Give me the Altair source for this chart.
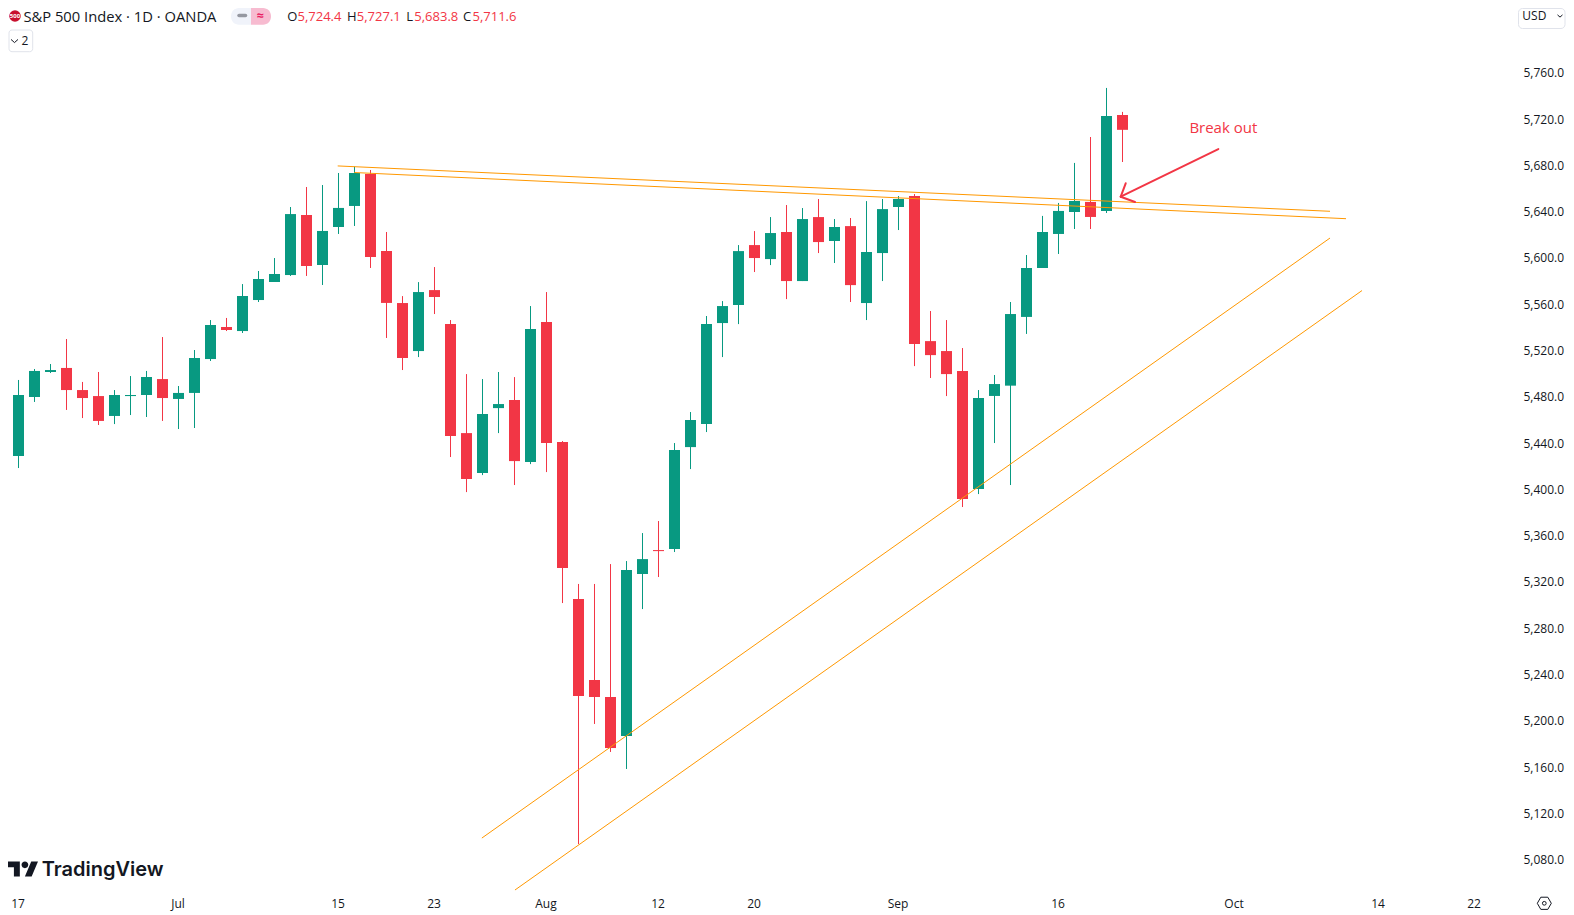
import json
import altair as alt
import pandas as pd

# Daily OHLC, S&P 500 Index (OANDA), one bar per trading day
opens = [5432.3, 5429.7, 5480.7, 5502.3, 5505.8, 5486.7, 5481.5, 5464.3, 5481.5, 5482.4,
         5496.2, 5479.0, 5484.2, 5513.5, 5541.2, 5537.7, 5564.5, 5580.1, 5586.1, 5638.0,
         5594.8, 5627.6, 5645.8, 5673.5, 5606.9, 5561.9, 5520.4, 5573.1, 5543.7, 5449.5,
         5415.0, 5471.1, 5478.1, 5424.5, 5545.5, 5441.8, 5306.1, 5236.1, 5221.4, 5187.7,
         5327.7, 5348.4, 5349.3, 5437.4, 5457.3, 5544.6, 5560.2, 5612.0, 5599.9, 5623.3,
         5580.9, 5636.2, 5615.5, 5628.4, 5561.9, 5605.1, 5644.9, 5654.4, 5529.0, 5520.4,
         5503.1, 5401.1, 5481.6, 5490.5, 5549.9, 5592.2, 5621.6, 5640.6, 5649.3, 5641.5,
         5724.4]
highs = [5437.5, 5495.4, 5504.9, 5509.2, 5530.8, 5493.7, 5502.3, 5486.7, 5498.8, 5503.2,
         5532.5, 5490.2, 5521.3, 5547.2, 5549.0, 5578.3, 5589.6, 5600.8, 5644.9, 5662.2,
         5663.9, 5674.3, 5679.8, 5676.9, 5623.3, 5567.9, 5580.0, 5593.0, 5547.2, 5500.5,
         5496.2, 5502.3, 5497.9, 5559.3, 5571.4, 5442.6, 5319.1, 5319.1, 5336.3, 5338.9,
         5363.1, 5373.5, 5440.9, 5467.7, 5550.7, 5563.6, 5612.0, 5624.1, 5636.2, 5646.6,
         5644.0, 5651.8, 5634.5, 5635.4, 5650.0, 5651.8, 5654.4, 5656.1, 5555.0, 5547.2,
         5523.0, 5486.7, 5499.7, 5562.8, 5603.4, 5637.2, 5648.4, 5683.0, 5705.4, 5747.8,
         5727.1]
lows = [5392.5, 5419.3, 5476.4, 5501.4, 5469.5, 5462.5, 5456.5, 5457.3, 5465.1, 5463.4,
        5460.0, 5453.0, 5453.9, 5511.8, 5537.7, 5536.0, 5562.8, 5580.1, 5585.3, 5585.3,
        5577.5, 5621.6, 5628.5, 5592.2, 5531.7, 5504.0, 5515.2, 5552.4, 5428.8, 5398.5,
        5413.2, 5449.5, 5404.6, 5422.7, 5415.8, 5302.6, 5094.3, 5198.1, 5173.9, 5159.2,
        5297.4, 5325.1, 5346.7, 5418.4, 5450.4, 5515.2, 5543.7, 5588.7, 5594.7, 5565.3,
        5580.9, 5605.1, 5596.5, 5562.8, 5547.2, 5580.9, 5625.0, 5507.4, 5497.1, 5481.5,
        5385.6, 5396.8, 5440.9, 5404.6, 5535.2, 5592.2, 5604.3, 5625.9, 5625.9, 5639.7,
        5683.8]
closes = [5429.7, 5482.4, 5503.2, 5504.0, 5486.7, 5479.8, 5460.0, 5482.4, 5482.4, 5498.0,
          5479.8, 5484.2, 5514.4, 5542.9, 5538.6, 5568.0, 5582.7, 5587.0, 5638.8, 5593.9,
          5624.2, 5644.1, 5674.3, 5601.7, 5562.0, 5514.4, 5571.4, 5567.1, 5446.9, 5409.8,
          5466.0, 5474.6, 5425.3, 5539.4, 5440.9, 5332.9, 5222.3, 5221.4, 5177.3, 5331.2,
          5340.6, 5347.5, 5434.8, 5460.8, 5543.7, 5559.3, 5606.8, 5600.8, 5622.4, 5580.9,
          5634.5, 5614.6, 5627.6, 5577.4, 5606.0, 5643.1, 5651.8, 5526.5, 5516.9, 5500.5,
          5392.5, 5479.8, 5491.9, 5552.4, 5592.2, 5623.3, 5641.5, 5650.1, 5636.3, 5723.6,
          5711.6]

# Hand-drawn trend lines: name, bar index and price at both ends
line_names = ["top1", "top1", "top2", "top2", "rise1", "rise1", "rise2", "rise2"]
line_bars = [20.95, 82.97, 21.99, 83.97, 29.96, 82.97, 32.03, 84.97]
line_prices = [5680.4, 5641.2, 5674.7, 5634.8, 5099.5, 5618.1, 5054.6, 5572.7]

# Arrow annotation: shaft and the two barbs, each a separate stroke
arrow_names = ["shaft", "shaft", "barb1", "barb1", "barb2", "barb2"]
arrow_bars = [75.99, 69.89, 69.89, 70.2, 69.89, 70.78]
arrow_prices = [5695.0, 5653.8, 5653.8, 5665.4, 5653.8, 5649.2]

note_text = ["Break out"]
note_bar = [74.18]
note_price = [5712.9]

# Axes
price_ticks = [5080, 5120, 5160, 5200, 5240, 5280, 5320, 5360, 5400, 5440, 5480, 5520,
               5560, 5600, 5640, 5680, 5720, 5760]
time_ticks = [1, 11, 21, 27, 34, 41, 47, 56, 66, 77, 86, 92]
time_labels = ["17", "Jul", "15", "23", "Aug", "12", "20", "Sep", "16", "Oct", "14", "22"]

GREEN = "#089981"
RED = "#F23645"
ORANGE = "#FF9800"
INK = "#131722"
FONT = "Open Sans"

df = pd.DataFrame({"bar": list(range(len(opens))), "open": opens, "high": highs,
                   "low": lows, "close": closes})
df["dir"] = ["up" if c >= o else "down" for o, c in zip(opens, closes)]

xs = alt.Scale(domain=[0.34375, 94.34375], nice=False, zero=False, padding=0)
ys = alt.Scale(domain=[5054.6, 5816.9], nice=False, zero=False, padding=0)
cs = alt.Scale(domain=["up", "down"], range=[GREEN, RED])

label_map = json.dumps({str(t): l for t, l in zip(time_ticks, time_labels)})
x_axis = alt.Axis(values=time_ticks, labelExpr=f"{label_map}[datum.value]", title=None,
                  grid=False, domain=False, ticks=False, labelFont=FONT, labelFontSize=12,
                  labelColor=INK, labelPadding=13, labelOffset=-1, labelBaseline="middle",
                  labelOverlap=False, labelFlush=False)
y_axis = alt.Axis(values=price_ticks, format=",.1f", orient="right", title=None,
                  grid=False, domain=False, ticks=False, labelFont=FONT, labelFontSize=12,
                  labelColor=INK, labelPadding=11, labelOffset=-1, labelOverlap=False)


def X(field):
    return alt.X(field, scale=xs, axis=x_axis)


def Y(field):
    return alt.Y(field, scale=ys, axis=y_axis)


wicks = alt.Chart(df).mark_rule(strokeWidth=1).encode(
    x=X("bar:Q"), y=Y("low:Q"), y2="high:Q",
    color=alt.Color("dir:N", scale=cs, legend=None),
)
bodies = alt.Chart(df).mark_bar(size=11, orient="vertical").encode(
    x=X("bar:Q"), y=Y("open:Q"), y2="close:Q",
    color=alt.Color("dir:N", scale=cs, legend=None),
)
trend = alt.Chart(pd.DataFrame({"n": line_names, "b": line_bars, "p": line_prices})).mark_line(
    color=ORANGE, strokeWidth=1).encode(x=X("b:Q"), y=Y("p:Q"), detail="n:N")
arrow = alt.Chart(pd.DataFrame({"n": arrow_names, "b": arrow_bars, "p": arrow_prices})).mark_line(
    color=RED, strokeWidth=2, strokeCap="round").encode(x=X("b:Q"), y=Y("p:Q"), detail="n:N")
note = alt.Chart(pd.DataFrame({"t": note_text, "b": note_bar, "p": note_price})).mark_text(
    color=RED, font=FONT, fontSize=15, align="left", baseline="middle").encode(
    x=X("b:Q"), y=Y("p:Q"), text="t:N")

one = pd.DataFrame({"a": [0]})


def text(s, x, y, size=12, color=INK, font=FONT, weight="normal", align="left"):
    return alt.Chart(one).mark_text(text=s, font=font, fontSize=size, color=color,
                                    fontWeight=weight, align=align, baseline="middle").encode(
        x=alt.value(x), y=alt.value(y))


def box(x, x2, y, y2, fill, stroke=None, **corners):
    kw = dict(fill=fill, **corners)
    if stroke:
        kw.update(stroke=stroke, strokeWidth=1)
    return alt.Chart(one).mark_rect(**kw).encode(
        x=alt.value(x), x2=alt.value(x2), y=alt.value(y), y2=alt.value(y2))


def glyph(path, x, y, size, filled=False, color=INK, width=1):
    return alt.Chart(one).mark_point(shape=path, filled=filled, size=size, color=color,
                                     opacity=1, strokeWidth=width).encode(
        x=alt.value(x), y=alt.value(y))


CHEVRON = "M-1 -0.45L0 0.45L1 -0.45"
HEX = "M-1 0L-0.5 -0.87L0.5 -0.87L1 0L0.5 0.87L-0.5 0.87Z"
TV_LOGO = ("M-0.211 0.507H-0.606V-0.113H-1V-0.507H-0.211ZM0.577 0.507H0.127L0.549 -0.507H1Z"
           "M0.352 -0.282A0.225 0.225 0 1 0 -0.098 -0.282A0.225 0.225 0 1 0 0.352 -0.282Z")

# Chart-space positions are the reference's minus the page's 8px margin.
ui = [
    glyph("circle", 7, 8, 135, filled=True, color="#C8102E"),
    text("500", 7, 8, size=6, color="#FFFFFF", weight="bold", align="center"),
    text("S&P 500 Index · 1D · OANDA", 15.4, 10.2, size=14.75),
    box(223, 243, 0, 16.8, "#F0F3FA", cornerRadiusTopLeft=8, cornerRadiusBottomLeft=8),
    box(243, 263, 0, 16.8, "#F7BBD0", cornerRadiusTopRight=8, cornerRadiusBottomRight=8),
    alt.Chart(one).mark_rule(color="#9598A1", strokeWidth=3.5, strokeCap="round").encode(
        x=alt.value(231), x2=alt.value(237.5), y=alt.value(7.4)),
    text("≈", 252, 7.5, size=12.5, color="#E91E63", align="center", weight="bold"),
    text("O", 279.2, 9, size=13),
    text("5,724.4", 289.5, 9, size=13, color=RED),
    text("H", 339, 9, size=13),
    text("5,727.1", 348.8, 9, size=13, color=RED),
    text("L", 398.3, 9, size=13),
    text("5,683.8", 406.3, 9, size=13, color=RED),
    text("C", 455, 9, size=13),
    text("5,711.6", 464.5, 9, size=13, color=RED),
    box(1, 24.7, 22, 43.7, "#FFFFFF", stroke="#E0E3EB", cornerRadius=3),
    glyph(CHEVRON, 6.5, 33, 49),
    text("2", 13.4, 33, size=12),
    box(1510.5, 1557, 0.5, 20.5, "#FFFFFF", stroke="#E0E3EB", cornerRadius=4),
    text("USD", 1514.3, 8, size=12),
    glyph(CHEVRON, 1552, 8, 25),
    glyph(TV_LOGO, 15, 861, 900, filled=True),
    text("TradingView", 33.7, 862, size=20, font="Inter", weight=600),
    glyph(HEX, 1536.3, 895.3, 196),
    glyph("circle", 1536.3, 895.3, 14),
]

chart = alt.layer(wicks, bodies, trend, arrow, note, *ui).properties(
    width=1504, height=882,
    padding={"left": 0, "top": 0, "right": 54, "bottom": 23},
    autosize=alt.AutoSizeParams(type="none"),
    background="#FFFFFF",
).configure_view(stroke=None)

chart.save("out.html", embed_options={"renderer": "svg", "actions": False})
